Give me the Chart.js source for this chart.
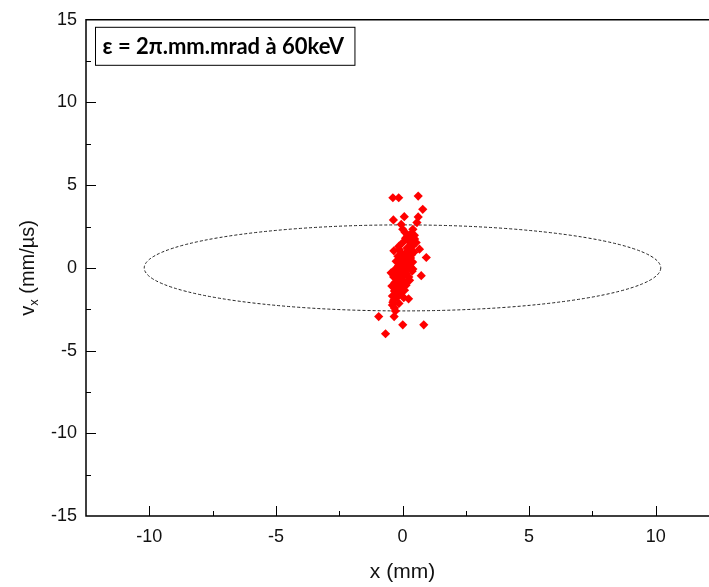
<!DOCTYPE html>
<html>
<head>
<meta charset="utf-8">
<script src="https://cdn.jsdelivr.net/npm/chart.js@4.4.0/dist/chart.umd.min.js"></script>
<style>
  html, body { margin: 0; padding: 0; background: #fff; overflow: hidden; }
</style>
</head>
<body>
<canvas id="phaseChart" width="740" height="587"></canvas>
<script>
// beam phase space x / vx, with the 2pi.mm.mrad acceptance ellipse

const xVals = [
  -0.38, -0.15, 0.62, 0.80, 0.07, -0.36, 0.62, 0.57, -0.05, 0.01,
  0.41, 0.47, 0.21, 0.54, 0.34, -0.34, 0.67, 0.94, 0.08, 0.28,
  -0.12, 0.41, 0.74, 0.21, -0.28, 0.01, -0.25, 0.24, -0.38, -0.32,
  -0.94, -0.33, 0.01, 0.84, -0.67,
  0.12, 0.32, 0.02, 0.38, 0.18, -0.12, 0.25, 0.45, -0.05, 0.14,
  -0.18, 0.32, 0.05, 0.22, -0.25, 0.40, 0.00, 0.12, -0.15, 0.30,
  -0.02, 0.18, -0.30, 0.10, -0.10, 0.38, 0.14, -0.25, 0.02, -0.35,
  0.25, -0.12, 0.06, -0.30, -0.05, 0.14, -0.42, -0.18, 0.08, -0.32,
  -0.08, -0.40, -0.20, 0.05, -0.35, -0.14, -0.40, -0.28, 0.26, 0.48,
  -0.15, 0.36, -0.06, 0.28, -0.45, 0.20, -0.22, 0.32, 0.10, -0.02
];
const vxVals = [
  4.24, 4.24, 4.34, 3.54, 3.10, 2.90, 3.08, 2.74, 2.63, 2.33,
  2.33, 1.97, 1.94, 1.53, 1.43, 1.03, 1.13, 0.63, 0.83, 0.73,
  0.53, -0.07, -0.47, -0.77, -0.87, -1.27, -1.57, -1.87, -2.07, -2.43,
  -2.94, -2.94, -3.44, -3.44, -3.98,
  1.80, 1.70, 1.55, 1.30, 1.20, 1.10, 1.00, 0.95, 0.90, 0.75,
  0.70, 0.60, 0.55, 0.45, 0.40, 0.35, 0.30, 0.20, 0.15, 0.10,
  0.05, -0.05, -0.10, -0.15, -0.25, -0.20, -0.35, -0.40, -0.50, -0.55,
  -0.55, -0.65, -0.80, -0.90, -1.00, -1.05, -1.10, -1.20, -1.35, -1.40,
  -1.50, -1.70, -1.75, -1.80, -1.95, -2.15, -2.25, -2.60, 1.60, 1.75,
  1.30, 0.80, -0.05, -0.75, -0.30, 0.48, -0.60, 2.05, 2.15, -1.15
];

const xTicks = [-10, -5, 0, 5, 10];
const yTicks = [-15, -10, -5, 0, 5, 10, 15];
const xRange = [-12.5, 12.5];
const yRange = [-15, 15];

// acceptance ellipse: centre and semi-axes in data units
const ellipseCentre = [0, 0];
const ellipseSemiAxes = [10.2, 2.6];

const boxText = 'ε = 2π.mm.mrad à 60keV';

const points = xVals.map((x, i) => ({ x: x, y: vxVals[i] }));

const sans = '"Liberation Sans", Arial, sans-serif';

const ellipsePlugin = {
  id: 'ellipse',
  beforeDatasetsDraw(chart) {
    const { ctx, scales } = chart;
    const cx = scales.x.getPixelForValue(ellipseCentre[0]);
    const cy = scales.y.getPixelForValue(ellipseCentre[1]);
    const rx = Math.abs(scales.x.getPixelForValue(ellipseCentre[0] + ellipseSemiAxes[0]) - cx);
    const ry = Math.abs(scales.y.getPixelForValue(ellipseCentre[1] + ellipseSemiAxes[1]) - cy);
    ctx.save();
    ctx.strokeStyle = '#222';
    ctx.lineWidth = 1;
    ctx.setLineDash([3, 2]);
    ctx.beginPath();
    ctx.ellipse(cx, cy, rx, ry, 0, 0, Math.PI * 2);
    ctx.stroke();
    ctx.restore();
  }
};

const framePlugin = {
  id: 'frame',
  afterDraw(chart) {
    const { ctx, chartArea: a, scales } = chart;
    ctx.save();
    ctx.strokeStyle = '#000';
    ctx.lineWidth = 1.5;
    ctx.beginPath();
    ctx.moveTo(a.right, a.top);
    ctx.lineTo(a.left, a.top);
    ctx.lineTo(a.left, a.bottom);
    ctx.lineTo(a.right, a.bottom);
    ctx.stroke();

    // inward ticks, major every 5, minor in between
    ctx.lineWidth = 1;
    ctx.beginPath();
    for (let v = -10; v <= 10; v += 2.5) {
      const px = Math.round(scales.x.getPixelForValue(v)) + 0.5;
      const len = (v % 5 === 0) ? 10 : 5;
      ctx.moveTo(px, a.bottom);
      ctx.lineTo(px, a.bottom - len);
    }
    for (let v = -12.5; v <= 12.5; v += 2.5) {
      const py = Math.round(scales.y.getPixelForValue(v)) + 0.5;
      const len = (v % 5 === 0) ? 10 : 5;
      ctx.moveTo(a.left, py);
      ctx.lineTo(a.left + len, py);
    }
    ctx.stroke();

    // y title with subscript
    ctx.fillStyle = '#111';
    ctx.translate(28, (a.top + a.bottom) / 2);
    ctx.rotate(-Math.PI / 2);
    ctx.textBaseline = 'middle';
    const big = '20px ' + sans;
    const small = '13px ' + sans;
    ctx.font = big;
    const w1 = ctx.measureText('v').width;
    const w3 = ctx.measureText(' (mm/µs)').width;
    ctx.font = small;
    const w2 = ctx.measureText('x').width;
    const x0 = -(w1 + w2 + w3) / 2;
    ctx.font = big;
    ctx.fillText('v', x0, 0);
    ctx.font = small;
    ctx.fillText('x', x0 + w1, 6);
    ctx.font = big;
    ctx.fillText(' (mm/µs)', x0 + w1 + w2, 0);
    ctx.restore();

    // annotation box
    ctx.save();
    ctx.font = 'bold 22px Lato, "Open Sans", sans-serif';
    const tw = ctx.measureText(boxText).width;
    const bx = a.left + 9.5, by = a.top + 7.5;
    const bw = tw + 18, bh = 38;
    ctx.fillStyle = '#fff';
    ctx.fillRect(bx, by, bw, bh);
    ctx.strokeStyle = '#000';
    ctx.lineWidth = 1;
    ctx.strokeRect(bx, by, bw, bh);
    ctx.fillStyle = '#000';
    ctx.textBaseline = 'middle';
    ctx.fillText(boxText, bx + 7, by + bh / 2 + 1);
    ctx.restore();
  }
};

new Chart(document.getElementById('phaseChart'), {
  type: 'scatter',
  data: {
    datasets: [{
      data: points,
      pointStyle: 'rectRot',
      pointRadius: 4.6,
      pointHoverRadius: 4.6,
      backgroundColor: '#ff0000',
      borderColor: '#ff0000',
      borderWidth: 0
    }]
  },
  options: {
    responsive: false,
    animation: false,
    devicePixelRatio: 1,
    layout: { padding: { left: 0, top: 16, right: 21, bottom: 0 } },
    plugins: { legend: { display: false }, tooltip: { enabled: false } },
    scales: {
      x: {
        type: 'linear',
        min: xRange[0],
        max: xRange[1],
        afterBuildTicks: (s) => { s.ticks = xTicks.map(v => ({ value: v })); },
        afterFit: (s) => { s.height = 71; },
        grid: { display: false, drawTicks: false },
        border: { display: false },
        ticks: { color: '#111', font: { family: sans, size: 18 }, padding: 10 },
        title: {
          display: true,
          text: 'x (mm)',
          color: '#111',
          font: { family: sans, size: 21 },
          padding: { top: 4, bottom: 2 }
        }
      },
      y: {
        type: 'linear',
        min: yRange[0],
        max: yRange[1],
        afterBuildTicks: (s) => { s.ticks = yTicks.map(v => ({ value: v })); },
        afterFit: (s) => { s.width = 86; },
        grid: { display: false, drawTicks: false },
        border: { display: false },
        ticks: { color: '#111', font: { family: sans, size: 18 }, padding: 9 }
      }
    }
  },
  plugins: [ellipsePlugin, framePlugin]
});
</script>
</body>
</html>
